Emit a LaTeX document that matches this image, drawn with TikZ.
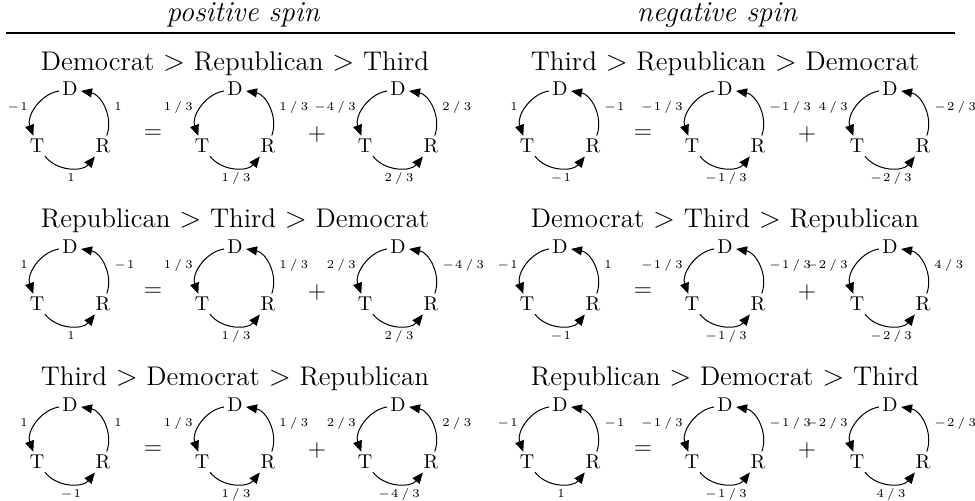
\documentclass[tikz,border=0pt]{standalone}
\usetikzlibrary{arrows.meta}
\newcommand{\frc}[2]{#1\kern1.6pt/\kern1.6pt#2}
\newcommand{\mn}{-\kern0.6pt}
\tikzset{
  vtx/.style={inner sep=1.5pt, font=\fontsize{10}{11}\selectfont},
  arr/.style={-{Triangle[length=5.5pt,width=4.5pt]}, line width=0.5pt},
  lbl/.style={inner sep=0pt, font=\fontsize{6.2}{8}\selectfont},
  ttl/.style={anchor=base, font=\fontsize{13.5}{15}\selectfont, inner sep=0pt},
  hdr/.style={anchor=base, font=\fontsize{14.5}{16}\selectfont\itshape, inner sep=0pt},
  op/.style={font=\fontsize{12.5}{14}\selectfont, inner sep=0pt},
}
% #1 name, #2 cx, #3 yD, #4 left label, #5 right label, #6 bottom label
\newcommand{\mycycle}[6]{%
  \node[vtx] (#1D) at (#2,#3) {D};
  \node[vtx] (#1T) at (#2-33,#3+57) {T};
  \node[vtx] (#1R) at (#2+33,#3+57) {R};
  \draw[arr] (#1D) to[bend right=50] (#1T);
  \draw[arr] (#1T) to[bend right=52] (#1R);
  \draw[arr] (#1R) to[bend right=50] (#1D);
  \node[lbl, anchor=east] (#1l) at (#2-42,#3+18) {$#4$};
  \node[lbl, anchor=west] (#1r) at (#2+44,#3+18) {$#5$};
  \node[lbl] (#1b) at (#2+1,#3+89) {$#6$};
}
\begin{document}
\begin{tikzpicture}[x=0.5pt,y=-0.5pt]
\useasboundingbox (0,0) rectangle (975,500);
\node[hdr] (hpos) at (243,21) {positive spin};
\node[hdr] (hneg) at (717,21) {negative spin};
\coordinate (rl) at (6,33);
\coordinate (rr) at (955,33);
\draw[line width=0.6pt] (rl) -- (rr);
% ---------- row 1
\node[ttl] (t1l) at (235,70) {Democrat $>$ Republican $>$ Third};
\mycycle{a1}{70}{89}{\mn1}{1}{1}
\node[op] (e1l) at (153,134) {$=$};
\mycycle{a2}{235}{89}{\frc13}{\frc13}{\frc13}
\node[op] (p1l) at (317,134) {$+$};
\mycycle{a3}{398}{89}{\mn\frc43}{\frc23}{\frc23}
\node[ttl] (t1r) at (725,70) {Third $>$ Republican $>$ Democrat};
\mycycle{b1}{560}{89}{1}{\mn1}{\mn1}
\node[op] (e1r) at (643,134) {$=$};
\mycycle{b2}{725}{89}{\mn\frc13}{\mn\frc13}{\mn\frc13}
\node[op] (p1r) at (807,134) {$+$};
\mycycle{b3}{890}{89}{\frc43}{\mn\frc23}{\mn\frc23}
% ---------- row 2
\node[ttl] (t2l) at (235,227) {Republican $>$ Third $>$ Democrat};
\mycycle{c1}{70}{247}{1}{\mn1}{1}
\node[op] (e2l) at (153,292) {$=$};
\mycycle{c2}{235}{247}{\frc13}{\frc13}{\frc13}
\node[op] (p2l) at (317,292) {$+$};
\mycycle{c3}{398}{247}{\frc23}{\mn\frc43}{\frc23}
\node[ttl] (t2r) at (725,227) {Democrat $>$ Third $>$ Republican};
\mycycle{d1}{560}{247}{\mn1}{1}{\mn1}
\node[op] (e2r) at (643,292) {$=$};
\mycycle{d2}{725}{247}{\mn\frc13}{\mn\frc13}{\mn\frc13}
\node[op] (p2r) at (807,292) {$+$};
\mycycle{d3}{890}{247}{\mn\frc23}{\frc43}{\mn\frc23}
% ---------- row 3
\node[ttl] (t3l) at (235,385) {Third $>$ Democrat $>$ Republican};
\mycycle{e1}{70}{405}{1}{1}{\mn1}
\node[op] (e3l) at (153,450) {$=$};
\mycycle{e2}{235}{405}{\frc13}{\frc13}{\frc13}
\node[op] (p3l) at (317,450) {$+$};
\mycycle{e3}{398}{405}{\frc23}{\frc23}{\mn\frc43}
\node[ttl] (t3r) at (725,385) {Republican $>$ Democrat $>$ Third};
\mycycle{f1}{560}{405}{\mn1}{\mn1}{1}
\node[op] (e3r) at (643,450) {$=$};
\mycycle{f2}{725}{405}{\mn\frc13}{\mn\frc13}{\mn\frc13}
\node[op] (p3r) at (807,450) {$+$};
\mycycle{f3}{890}{405}{\mn\frc23}{\mn\frc23}{\frc43}
\end{tikzpicture}
\end{document}
